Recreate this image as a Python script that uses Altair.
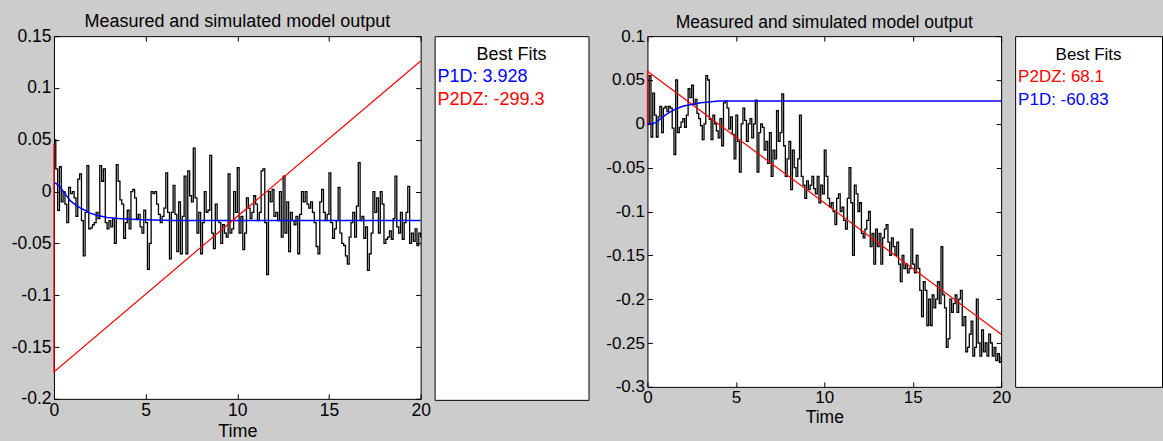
import altair as alt
import pandas as pd

# sample instants of the measured output (0 .. 20 s, step 0.1 s)
time = [round(0.1 * i, 1) for i in range(201)]

measured_left = [
    0.050, 0.022, -0.018, 0.024, -0.010, 0.000, -0.012, -0.030, 0.004, -0.002,
    0.000, -0.006, -0.024, 0.012, 0.017, -0.028, -0.062, -0.020, 0.025, -0.036,
    -0.035, -0.032, -0.030, -0.020, -0.026, 0.025, 0.010, 0.022, -0.030, -0.036,
    -0.028, -0.034, -0.026, -0.050, 0.026, 0.010, -0.008, -0.012, -0.045, -0.030,
    -0.018, -0.036, 0.000, 0.002, -0.006, -0.026, -0.022, -0.034, -0.040, -0.018,
    -0.030, -0.075, -0.050, 0.000, -0.002, 0.000, -0.012, -0.022, -0.030, -0.024,
    -0.016, 0.018, -0.020, -0.065, -0.020, 0.006, -0.022, -0.058, -0.010, -0.060,
    -0.024, 0.015, -0.060, 0.020, -0.004, -0.010, 0.042, -0.006, -0.040, -0.020,
    -0.060, -0.030, 0.000, -0.020, -0.018, 0.035, -0.040, -0.055, -0.012, -0.028,
    -0.030, -0.050, -0.032, -0.040, -0.044, 0.017, -0.040, -0.036, 0.000, -0.020,
    0.023, -0.040, -0.024, -0.056, -0.040, -0.006, -0.016, -0.026, -0.020, -0.004,
    -0.012, -0.028, -0.020, 0.020, 0.022, -0.030, -0.080, 0.000, -0.010, 0.002,
    -0.024, -0.020, -0.028, 0.000, -0.044, 0.015, -0.040, -0.010, -0.058, -0.020,
    -0.028, -0.032, -0.024, -0.060, -0.022, 0.000, -0.010, 0.000, -0.012, -0.016,
    -0.010, -0.020, -0.030, -0.053, -0.060, -0.010, 0.002, -0.020, -0.028, -0.022,
    0.018, -0.030, -0.045, -0.036, -0.028, 0.004, -0.040, -0.050, -0.052, -0.062,
    -0.070, -0.044, -0.030, -0.020, -0.044, -0.014, 0.028, -0.028, -0.024, -0.045,
    -0.034, -0.076, -0.060, -0.040, 0.000, -0.020, -0.006, -0.040, 0.000, -0.012,
    -0.050, -0.046, -0.044, -0.038, -0.046, -0.026, 0.015, -0.034, -0.040, -0.020,
    -0.046, -0.030, -0.020, 0.005, -0.050, -0.040, -0.048, -0.036, -0.052, -0.040,
    -0.044,
]

measured_right = [
    0.000, 0.055, -0.015, 0.035, 0.010, -0.015, 0.008, 0.020, -0.010, 0.018,
    0.020, 0.014, 0.020, 0.018, -0.005, -0.035, 0.050, -0.010, -0.004, 0.002,
    0.006, -0.004, 0.010, 0.040, 0.030, 0.044, 0.022, 0.028, 0.012, 0.006,
    -0.002, -0.018, 0.000, 0.055, 0.050, 0.005, -0.018, 0.010, 0.000, -0.008,
    -0.016, 0.006, -0.025, 0.024, 0.026, 0.018, -0.006, 0.008, -0.012, -0.040,
    0.010, -0.020, -0.055, 0.000, 0.018, 0.004, -0.020, 0.000, 0.006, -0.016,
    0.000, 0.027, -0.055, -0.010, 0.000, -0.004, -0.030, -0.020, -0.045, -0.010,
    -0.060, -0.030, -0.040, 0.015, -0.020, -0.010, 0.034, -0.025, -0.060, -0.040,
    -0.020, -0.075, -0.030, -0.050, -0.060, -0.040, 0.010, -0.060, -0.070, -0.085,
    -0.065, -0.075, -0.070, -0.060, -0.074, -0.080, -0.060, -0.090, -0.070, -0.080,
    -0.030, -0.060, -0.085, -0.095, -0.090, -0.100, -0.115, -0.085, -0.080, -0.100,
    -0.095, -0.110, -0.120, -0.085, -0.050, -0.090, -0.150, -0.070, -0.080, -0.100,
    -0.090, -0.125, -0.130, -0.120, -0.110, -0.100, -0.140, -0.125, -0.160, -0.120,
    -0.140, -0.125, -0.160, -0.130, -0.120, -0.115, -0.135, -0.150, -0.130, -0.140,
    -0.150, -0.135, -0.160, -0.180, -0.150, -0.165, -0.160, -0.170, -0.165, -0.120,
    -0.160, -0.170, -0.150, -0.165, -0.190, -0.220, -0.180, -0.190, -0.230, -0.200,
    -0.230, -0.195, -0.210, -0.200, -0.180, -0.205, -0.140, -0.195, -0.210, -0.255,
    -0.245, -0.200, -0.215, -0.205, -0.195, -0.215, -0.200, -0.190, -0.230, -0.220,
    -0.260, -0.255, -0.240, -0.225, -0.265, -0.255, -0.200, -0.250, -0.265, -0.235,
    -0.260, -0.250, -0.265, -0.240, -0.250, -0.265, -0.255, -0.270, -0.262, -0.272,
    -0.265,
]

# simulated responses of the identified models
p1d_left_t = [0, 0.1, 0.35, 0.6, 0.9, 1.2, 1.45, 1.7, 2.0, 2.4, 2.9, 3.5, 4.5, 6.5, 20]
p1d_left_y = [0.008, 0.008, 0.004, -0.002, -0.009, -0.013, -0.016, -0.018, -0.021,
              -0.023, -0.025, -0.026, -0.027, -0.028, -0.028]
p2dz_left_t = [0, 0, 20]
p2dz_left_y = [0.046, -0.174, 0.126]

p1d_right_t = [0, 0.3, 0.5, 0.75, 1.0, 1.25, 1.5, 1.75, 2.0, 2.5, 3.0, 3.5, 4.0, 5.0, 20]
p1d_right_y = [0.0, 0.0, 0.002, 0.006, 0.010, 0.013, 0.016, 0.018, 0.020, 0.022,
               0.024, 0.025, 0.026, 0.026, 0.026]
p2dz_right_t = [0, 0, 20]
p2dz_right_y = [-0.003, 0.060, -0.240]

# fit percentages, in the order the models are listed
fits_left_models = ["P1D", "P2DZ"]
fits_left_scores = [3.928, -299.3]
fits_right_models = ["P2DZ", "P1D"]
fits_right_scores = [68.1, -60.83]

x_ticks = [0, 5, 10, 15, 20]
left_yticks = [-0.2, -0.15, -0.1, -0.05, 0, 0.05, 0.1, 0.15]
right_yticks = [-0.3, -0.25, -0.2, -0.15, -0.1, -0.05, 0, 0.05, 0.1]

FONT = "Liberation Sans"
TICK = 5
model_colors = alt.Scale(domain=["P1D", "P2DZ"], range=["#0000ff", "#ff0000"])


def fit_frame(model, t, y):
    return pd.DataFrame({"model": model, "t": t, "y": y, "i": list(range(len(t)))})


def output_plot(measured, fits, yticks, width, height, fs, title_fs):
    xs = alt.Scale(domain=[0, 20], nice=False, zero=False)
    ys = alt.Scale(domain=[yticks[0], yticks[-1]], nice=False, zero=False)
    meas_df = pd.DataFrame({"t": time, "y": measured})

    main_x = alt.Axis(values=x_ticks, title="Time", orient="bottom", offset=-TICK,
                      tickSize=TICK, domain=False, labelFlush=False, labelPadding=3,
                      labelFontSize=fs, titleFontSize=title_fs, titlePadding=3,
                      labelExpr="'' + datum.value")
    main_y = alt.Axis(values=yticks, title=None, orient="left", offset=-TICK,
                      tickSize=TICK, domain=False, labelPadding=3,
                      labelFontSize=fs, labelExpr="'' + datum.value")

    measured_line = alt.Chart(meas_df).mark_line(
        color="black", strokeWidth=1.3, interpolate="step-after"
    ).encode(
        x=alt.X("t:Q", scale=xs, axis=main_x),
        y=alt.Y("y:Q", scale=ys, axis=main_y),
    )

    layers = [measured_line]
    for model, t, y in fits:
        layers.append(
            alt.Chart(fit_frame(model, t, y)).mark_line(
                strokeWidth=1.5 if model == "P1D" else 1.2
            ).encode(
                x=alt.X("t:Q", scale=xs, axis=None),
                y=alt.Y("y:Q", scale=ys, axis=None),
                order="i:Q",
                color=alt.Color("model:N", scale=model_colors, legend=None),
            )
        )

    # inward ticks on the top and right edges of the box
    box_ticks = alt.Chart(meas_df).mark_point(opacity=0).encode(
        x=alt.X("t:Q", scale=xs,
                axis=alt.Axis(values=x_ticks, orient="top", labels=False, title=None,
                              domain=False, tickSize=TICK, offset=-TICK)),
        y=alt.Y("y:Q", scale=ys,
                axis=alt.Axis(values=yticks, orient="right", labels=False, title=None,
                              domain=False, tickSize=TICK, offset=-TICK)),
    )
    layers.append(box_ticks)

    return alt.layer(*layers).resolve_axis(x="independent", y="independent").properties(
        width=width,
        height=height,
        title=alt.TitleParams("Measured and simulated model output", fontSize=title_fs,
                              font=FONT, fontWeight="normal", color="black", offset=-4),
    )


def fits_box(models, scores, width, height, fs):
    header = alt.Chart(pd.DataFrame({"label": ["Best Fits"]})).mark_text(
        fontSize=fs, font=FONT, color="black", align="center", baseline="alphabetic"
    ).encode(x=alt.value(width / 2), y=alt.value(24), text="label:N")

    df = pd.DataFrame({
        "model": models,
        "label": [f"{m}: {s}" for m, s in zip(models, scores)],
        "row": list(range(len(models))),
    })
    entries = alt.Chart(df).mark_text(
        fontSize=fs, font=FONT, align="left", baseline="alphabetic"
    ).transform_calculate(ypos="46 + 23 * datum.row").encode(
        x=alt.value(3),
        y=alt.Y("ypos:Q", scale=None),
        text="label:N",
        color=alt.Color("model:N", scale=model_colors, legend=None),
    )
    return alt.layer(header, entries).properties(width=width, height=height)


left_plot = output_plot(
    measured_left,
    [("P1D", p1d_left_t, p1d_left_y), ("P2DZ", p2dz_left_t, p2dz_left_y)],
    left_yticks, 367, 363, 17.5, 18,
)
left_box = fits_box(fits_left_models, fits_left_scores, 154, 364, 18)

right_plot = output_plot(
    measured_right,
    [("P2DZ", p2dz_right_t, p2dz_right_y), ("P1D", p1d_right_t, p1d_right_y)],
    right_yticks, 354, 351, 17, 17.5,
)
right_box = fits_box(fits_right_models, fits_right_scores, 147, 351, 17)

gap = alt.Chart(pd.DataFrame({"v": [0]})).mark_point(opacity=0).encode(
    x=alt.value(0), y=alt.value(0)
).properties(width=31, height=10,
             view=alt.ViewBackground(fill="transparent", stroke="transparent"))

chart = alt.hconcat(
    left_plot, left_box, gap, right_plot, right_box, spacing=14, bounds="flush"
).configure(
    background="#cccccc",
    padding={"left": 10, "top": 12, "right": 0, "bottom": 0},
    font=FONT,
).configure_view(
    stroke="black", strokeWidth=1, fill="white"
).configure_axis(
    grid=False, labelColor="black", tickColor="black", titleColor="black",
    labelFont=FONT, titleFont=FONT, titleFontWeight="normal", labelOverlap=False,
)

chart.save("out.html", embed_options={"renderer": "svg", "actions": False})
